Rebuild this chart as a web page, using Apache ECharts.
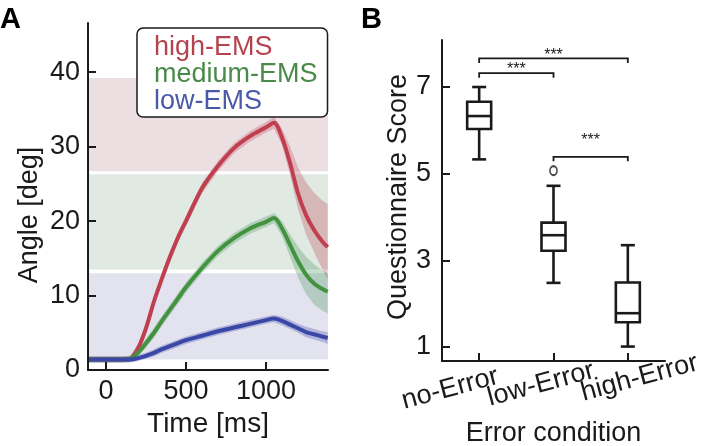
<!DOCTYPE html>
<html><head><meta charset="utf-8">
<script src="https://cdn.jsdelivr.net/npm/echarts@6/dist/echarts.min.js"></script>
<style>html,body{margin:0;padding:0;background:#fff}#c{width:708px;height:446px}</style>
</head><body><div id="c"></div>
<script>
// ---------- Panel A data ----------
const time      = [-110, 0, 100, 150, 200, 250, 300, 350, 400, 450, 500, 600, 700, 800, 900, 1000, 1050, 1100, 1150, 1200, 1250, 1300, 1350, 1385];
const highMean  = [1.4, 1.4, 1.4, 1.5, 2.9, 5.6, 9.2, 12.3, 15.2, 17.8, 20.0, 24.4, 27.4, 29.8, 31.4, 32.6, 33.2, 31.2, 27.8, 23.7, 20.8, 18.8, 17.3, 16.5];
const highLower = [1.0, 1.0, 1.0, 1.1, 2.3, 4.9, 8.5, 11.6, 14.5, 17.1, 19.3, 23.7, 26.7, 29.1, 30.7, 31.9, 32.4, 30.2, 26.2, 21.6, 18.2, 15.8, 13.6, 12.2];
const highUpper = [1.8, 1.8, 1.8, 1.9, 3.5, 6.3, 9.9, 13.0, 15.9, 18.5, 20.7, 25.1, 28.1, 30.5, 32.1, 33.3, 34.0, 32.4, 30.0, 27.2, 25.2, 23.8, 22.8, 22.3];
const medMean   = [1.4, 1.4, 1.4, 1.5, 2.3, 3.6, 5.0, 6.6, 8.1, 9.6, 11.1, 13.7, 16.0, 17.7, 19.0, 19.9, 20.4, 19.0, 16.8, 14.6, 12.8, 11.6, 10.9, 10.5];
const medLower  = [1.0, 1.0, 1.0, 1.1, 1.8, 3.0, 4.3, 5.9, 7.4, 8.9, 10.4, 13.0, 15.3, 17.0, 18.3, 19.2, 19.7, 18.0, 15.2, 12.4, 10.2, 8.8, 8.0, 7.6];
const medUpper  = [1.8, 1.8, 1.8, 1.9, 2.8, 4.2, 5.7, 7.3, 8.8, 10.3, 11.8, 14.4, 16.7, 18.4, 19.7, 20.6, 21.1, 20.0, 18.2, 16.6, 15.2, 14.2, 13.4, 13.0];
const lowMean   = [1.4, 1.4, 1.4, 1.4, 1.6, 1.9, 2.3, 2.8, 3.2, 3.6, 4.0, 4.6, 5.2, 5.7, 6.2, 6.7, 6.9, 6.6, 6.1, 5.6, 5.1, 4.8, 4.5, 4.3];
const lowLower  = [1.0, 1.0, 1.0, 1.0, 1.2, 1.5, 1.8, 2.3, 2.7, 3.1, 3.5, 4.1, 4.7, 5.2, 5.7, 6.2, 6.4, 6.0, 5.5, 5.0, 4.4, 4.1, 3.8, 3.5];
const lowUpper  = [1.8, 1.8, 1.8, 1.8, 2.0, 2.3, 2.8, 3.3, 3.7, 4.1, 4.5, 5.1, 5.7, 6.2, 6.7, 7.2, 7.4, 7.2, 6.7, 6.2, 5.8, 5.5, 5.2, 5.1];
const emsNames  = ['high-EMS', 'medium-EMS', 'low-EMS'];
const zoneRanges = [[26.7, 39.2], [13.5, 26.3], [1.4, 13.0]];
const angleTicks = [0, 10, 20, 30, 40];
const timeTicks  = [0, 500, 1000];

// ---------- Panel B data ----------
const categories = ['no-Error', 'low-Error', 'high-Error'];
// [min, Q1, median, Q3, max]
const boxNo   = [5.33, 6.03, 6.33, 6.66, 7.0];
const boxLow  = [2.48, 3.22, 3.58, 3.87, 4.72];
const boxHigh = [1.01, 1.57, 1.78, 2.49, 3.35];
const outliers = [[1, 5.07]];
// [fromCategory, toCategory, height]
const brackets = [[0, 2, 7.66], [0, 1, 7.32], [1, 2, 5.39]];
const bracketLabels = ['***', '***', '***'];
const scoreTicks = [1, 3, 5, 7];

// ---------- styling ----------
const FONT = "'Liberation Sans', Arial, Helvetica, sans-serif";
const INK = '#1a1a1a';
const lineColors = ['#bf3f4f', '#43923f', '#3a47a6'];
const bandColors = ['rgba(190,70,85,0.30)', 'rgba(70,150,85,0.30)', 'rgba(60,70,170,0.30)'];
const legendColors = ['#b5434f', '#4a8a48', '#4a58a8'];
const zoneColors = ['#ecdfe2', '#e0e9e2', '#e3e3ef'];

const chart = echarts.init(document.getElementById('c'), null, {renderer: 'canvas'});

function bandSeries(name, lo, hi, color) {
  return {
    type: 'custom', name: name, xAxisIndex: 0, yAxisIndex: 0, z: 2, silent: true,
    data: [[time[0], lo[0]]],
    renderItem: function (params, api) {
      const pts = [];
      for (let i = 0; i < time.length; i++) pts.push(api.coord([time[i], hi[i]]));
      for (let i = time.length - 1; i >= 0; i--) pts.push(api.coord([time[i], lo[i]]));
      return {type: 'polygon', shape: {points: pts}, style: {fill: color}};
    }
  };
}
function lineSeries(idx, mean) {
  return {
    type: 'line', name: emsNames[idx], xAxisIndex: 0, yAxisIndex: 0, z: 3,
    data: time.map((t, i) => [t, mean[i]]),
    showSymbol: false, symbol: 'none', smooth: 0.3, silent: true,
    lineStyle: {color: lineColors[idx], width: 4}, itemStyle: {color: lineColors[idx]}
  };
}

const boxStats = [boxNo, boxLow, boxHigh];
const starLift = [3, 3.5, 16];

const axisLineStyle = {show: true, onZero: false, lineStyle: {color: INK, width: 2}};
const axisTickStyle = {show: true, inside: true, length: 8, lineStyle: {color: INK, width: 2}};
const plain = v => String(v);

const catLabelTweaks = [
  {padding: [0, 60, 0, 0]},
  {padding: [11, 26, 0, 0]},
  {padding: [35, 0, 0, 24]}
];

const option = {
  animation: false,
  backgroundColor: '#fff',
  textStyle: {fontFamily: FONT},
  legend: {
    data: emsNames.map((n, i) => ({name: n, textStyle: {color: legendColors[i]}})),
    orient: 'vertical', left: 137, top: 28,
    padding: [6, 10, 2, 12], itemGap: 0, itemWidth: 0, itemHeight: 0,
    selectedMode: false, icon: 'rect',
    backgroundColor: '#fff', borderColor: INK, borderWidth: 1.5, borderRadius: 6,
    textStyle: {fontSize: 27, lineHeight: 23, fontFamily: FONT}
  },
  graphic: [
    {type: 'text', left: 0, top: 5, style: {text: 'A', font: 'bold 29px ' + FONT, fill: '#000'}},
    {type: 'text', left: 361, top: 5, style: {text: 'B', font: 'bold 29px ' + FONT, fill: '#000'}}
  ],
  grid: [
    {left: 88, top: 23, width: 240, height: 347, containLabel: false, outerBoundsMode: 'none'},
    {left: 442, top: 40, width: 223, height: 321, containLabel: false, outerBoundsMode: 'none'}
  ],
  xAxis: [
    {
      type: 'value', gridIndex: 0, min: -112, max: 1387, z: 5,
      name: 'Time [ms]', nameLocation: 'middle', nameGap: 37,
      nameTextStyle: {fontSize: 28, color: INK, fontFamily: FONT},
      axisLine: axisLineStyle, axisTick: Object.assign({customValues: timeTicks}, axisTickStyle),
      axisLabel: {customValues: timeTicks, formatter: plain, fontSize: 27, color: INK, margin: 8, fontFamily: FONT},
      splitLine: {show: false}
    },
    {
      type: 'category', gridIndex: 1, z: 5, data: categories.map((c, i) => ({
        value: c,
        textStyle: Object.assign({align: 'center', verticalAlign: 'middle'}, catLabelTweaks[i])
      })),
      boundaryGap: true,
      name: 'Error condition', nameLocation: 'middle', nameGap: 53,
      nameTextStyle: {fontSize: 27, color: INK, fontFamily: FONT},
      axisLine: axisLineStyle,
      axisTick: Object.assign({alignWithLabel: true, interval: 0}, axisTickStyle),
      axisLabel: {interval: 0, rotate: 15, fontSize: 27, color: INK, margin: 20, fontFamily: FONT, align: 'center', verticalAlign: 'middle'},
      splitLine: {show: false}
    }
  ],
  yAxis: [
    {
      type: 'value', gridIndex: 0, min: 0, max: 46.6, z: 5,
      name: 'Angle [deg]', nameLocation: 'middle', nameGap: 45, nameRotate: 90,
      nameTextStyle: {fontSize: 27, color: INK, fontFamily: FONT, padding: [0, 37, 0, 0]},
      axisLine: axisLineStyle, axisTick: Object.assign({customValues: angleTicks}, axisTickStyle),
      axisLabel: {customValues: angleTicks, formatter: plain, fontSize: 27, color: INK, margin: 8, fontFamily: FONT},
      splitLine: {show: false}
    },
    {
      type: 'value', gridIndex: 1, min: 0.677, max: 8.085, z: 5,
      name: 'Questionnaire Score', nameLocation: 'middle', nameGap: 28, nameRotate: 90,
      nameTextStyle: {fontSize: 27, color: INK, fontFamily: FONT, padding: [0, 0, 0, 7]},
      axisLine: axisLineStyle, axisTick: Object.assign({customValues: scoreTicks}, axisTickStyle),
      axisLabel: {customValues: scoreTicks, formatter: plain, fontSize: 27, color: INK, margin: 11, fontFamily: FONT},
      splitLine: {show: false}
    }
  ],
  series: [
    {
      type: 'line', name: 'zones', xAxisIndex: 0, yAxisIndex: 0, data: [], silent: true, z: 1,
      markArea: {
        silent: true, z: 1,
        data: zoneRanges.map((r, i) => [{yAxis: r[0], itemStyle: {color: zoneColors[i], borderWidth: 0}}, {yAxis: r[1]}])
      }
    },
    bandSeries('high band', highLower, highUpper, bandColors[0]),
    bandSeries('medium band', medLower, medUpper, bandColors[1]),
    bandSeries('low band', lowLower, lowUpper, bandColors[2]),
    lineSeries(0, highMean),
    lineSeries(1, medMean),
    lineSeries(2, lowMean),
    {
      type: 'custom', name: 'box', xAxisIndex: 1, yAxisIndex: 1, z: 3, silent: true,
      data: boxStats.map((b, i) => [i].concat(b)),
      encode: {x: 0, y: [1, 2, 3, 4, 5]},
      renderItem: function (params, api) {
        const i = api.value(0);
        const pMin = api.coord([i, api.value(1)]);
        const pQ1 = api.coord([i, api.value(2)]);
        const pMed = api.coord([i, api.value(3)]);
        const pQ3 = api.coord([i, api.value(4)]);
        const pMax = api.coord([i, api.value(5)]);
        const x = pMin[0], hw = 12, cw = 7;
        const st = {stroke: INK, lineWidth: 2.6, fill: null};
        return {type: 'group', children: [
          {type: 'line', shape: {x1: x, y1: pMin[1], x2: x, y2: pQ1[1]}, style: st},
          {type: 'line', shape: {x1: x, y1: pQ3[1], x2: x, y2: pMax[1]}, style: st},
          {type: 'line', shape: {x1: x - cw, y1: pMin[1], x2: x + cw, y2: pMin[1]}, style: st},
          {type: 'line', shape: {x1: x - cw, y1: pMax[1], x2: x + cw, y2: pMax[1]}, style: st},
          {type: 'rect', shape: {x: x - hw, y: pQ3[1], width: 2 * hw, height: pQ1[1] - pQ3[1]}, style: {stroke: INK, lineWidth: 2.6, fill: '#fff'}},
          {type: 'line', shape: {x1: x - hw, y1: pMed[1], x2: x + hw, y2: pMed[1]}, style: st}
        ]};
      }
    },
    {
      type: 'scatter', name: 'outlier', xAxisIndex: 1, yAxisIndex: 1, z: 4, silent: true,
      data: outliers, symbol: 'circle', symbolSize: [7, 9],
      itemStyle: {color: '#fff', borderColor: INK, borderWidth: 1.8}
    },
    {
      type: 'custom', name: 'significance', xAxisIndex: 1, yAxisIndex: 1, z: 4, silent: true,
      data: brackets,
      encode: {x: [0, 1], y: 2},
      renderItem: function (params, api) {
        const k = params.dataIndex;
        const a = api.coord([api.value(0), api.value(2)]);
        const b = api.coord([api.value(1), api.value(2)]);
        const drop = 4.5;
        return {type: 'group', children: [
          {type: 'polyline', shape: {points: [[a[0], a[1] + drop], [a[0], a[1]], [b[0], b[1]], [b[0], b[1] + drop]]},
            style: {stroke: INK, lineWidth: 1.8, fill: null}},
          {type: 'text', x: (a[0] + b[0]) / 2, y: a[1] - starLift[k],
            style: {text: bracketLabels[k], font: '16px ' + FONT, fill: INK, textAlign: 'center', textVerticalAlign: 'middle'}}
        ]};
      }
    }
  ]
};
chart.setOption(option);
</script></body></html>
